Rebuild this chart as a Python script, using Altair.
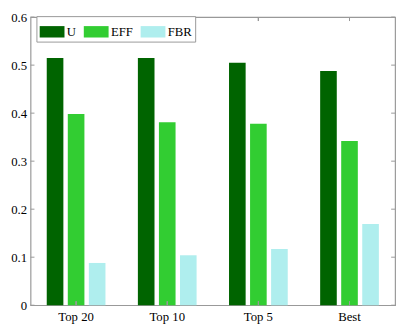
import altair as alt
import pandas as pd

categories = ["Top 20", "Top 10", "Top 5", "Best"]
series = ["U", "EFF", "FBR"]
u_vals = [0.515, 0.515, 0.505, 0.488]
eff_vals = [0.398, 0.381, 0.378, 0.342]
fbr_vals = [0.088, 0.104, 0.117, 0.169]
y_ticks = [0, 0.1, 0.2, 0.3, 0.4, 0.5, 0.6]
colors = ["#006400", "#32CD32", "#AFEEEE"]

rows = []
for i, c in enumerate(categories):
    for s, vals in zip(series, [u_vals, eff_vals, fbr_vals]):
        rows.append({"cat": c, "series": s, "value": vals[i]})
df = pd.DataFrame(rows)
tick_df = pd.DataFrame({"value": y_ticks})

W, H = 372, 294
FONT = "Liberation Serif"
AXC = "#999999"

xscale = alt.Scale(domain=categories, paddingInner=0, paddingOuter=0)
yscale = alt.Scale(domain=[0, 0.6], nice=False)

xaxis = alt.Axis(labelAngle=0, ticks=False, domain=False, labelPadding=6,
                 labelFont=FONT, labelFontSize=13, labelColor="#000")
yaxis = alt.Axis(values=y_ticks, format=".1~f", ticks=False, domain=False,
                 grid=False, labelPadding=4, labelFont=FONT, labelFontSize=13,
                 labelColor="#000")

bars = alt.Chart(df).mark_bar().encode(
    x=alt.X("cat:N", sort=categories, scale=xscale, title=None, axis=xaxis),
    xOffset=alt.XOffset("series:N", sort=series,
                        scale=alt.Scale(domain=series, paddingInner=0.21, paddingOuter=0.77)),
    y=alt.Y("value:Q", scale=yscale, title=None, axis=yaxis),
    color=alt.Color("series:N", sort=series,
                    scale=alt.Scale(domain=series, range=colors),
                    legend=alt.Legend(
                        title=None, orient="none", legendX=6, legendY=-1,
                        direction="horizontal", columns=3,
                        symbolType="M-1,-0.46H1V0.46H-1Z", symbolSize=640,
                        symbolStrokeWidth=0, symbolOpacity=1,
                        labelFont=FONT, labelFontSize=13, labelColor="#000",
                        labelOffset=2, columnPadding=7, padding=3,
                        strokeColor=AXC, fillColor="white")),
)

yt_left = alt.Chart(tick_df).mark_rule(color=AXC, strokeWidth=1).encode(
    y=alt.Y("value:Q", scale=yscale, title=None, axis=yaxis),
    x=alt.value(0), x2=alt.value(4))
yt_right = alt.Chart(tick_df).mark_rule(color=AXC, strokeWidth=1).encode(
    y=alt.Y("value:Q", scale=yscale, title=None, axis=yaxis),
    x=alt.value(W - 4), x2=alt.value(W))
xt_bottom = alt.Chart(df).mark_rule(color=AXC, strokeWidth=1).encode(
    x=alt.X("cat:N", sort=categories, scale=xscale, bandPosition=0.5, title=None, axis=xaxis),
    y=alt.value(H - 4), y2=alt.value(H))
xt_top = alt.Chart(df).mark_rule(color=AXC, strokeWidth=1).encode(
    x=alt.X("cat:N", sort=categories, scale=xscale, bandPosition=0.5, title=None, axis=xaxis),
    y=alt.value(0), y2=alt.value(4))

chart = alt.layer(bars, yt_left, yt_right, xt_bottom, xt_top).properties(
    width=W, height=H,
    autosize=alt.AutoSizeParams(type="none"),
    padding={"left": 23, "top": 6, "right": 4, "bottom": 22},
).configure(font=FONT).configure_view(stroke=AXC, strokeWidth=1.2)

chart.save("out.html", embed_options={"renderer": "svg", "actions": False})
